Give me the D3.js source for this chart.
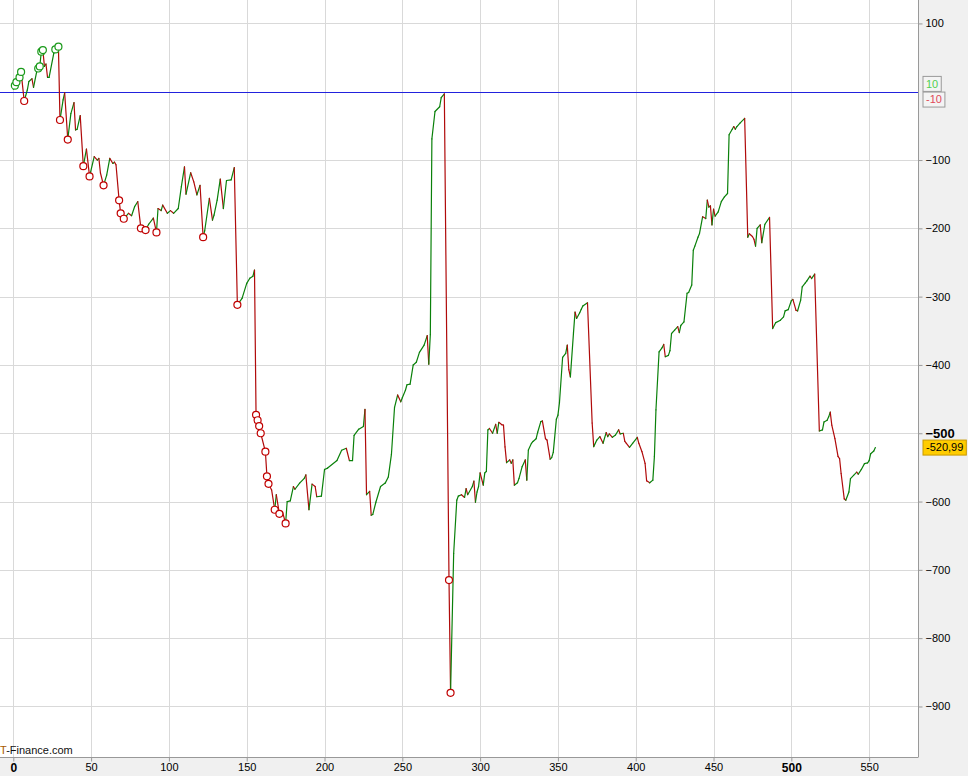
<!DOCTYPE html>
<html>
<head>
<meta charset="utf-8">
<script src="https://d3js.org/d3.v7.min.js"></script>
<style>
  body { margin: 0; background: #fff; }
  svg { display: block; font-family: "Liberation Sans", Arial, sans-serif; }
</style>
</head>
<body>
<div id="chart"></div>
<script>
// bar index and indicator value
var bars = [0,1,2,4,5,7,9,10,12,13,15,16,17,18,19,20,21,22,23,26,27,29,30,32,33,35,37,39,40,41,43,45,47,49,
  52,54,55,56,58,60,62,64,65,66,68,69,71,74,76,78,80,82,85,87,90,92,93,95,96,99,101,103,106,108,110,111,114,
  116,118,120,122,123,126,128,129,131,133,135,137,140,142,144,147,150,152,154,155,156,157,158,159,162,163,164,
  166,168,169,171,173,175,176,178,180,181,184,187,188,190,192,194,195,198,200,202,208,211,214,216,218,219,222,
  225,226,227,229,230,231,233,236,239,241,243,245,247,249,250,252,253,255,257,259,261,264,266,267,268,269,271,
  274,275,277,280,281,283,285,286,288,290,291,292,295,296,297,298,299,300,302,303,304,305,306,308,310,311,312,
  314,315,316,317,319,320,321,322,324,325,327,329,330,331,333,334,336,337,339,340,342,343,345,346,347,349,350,
  351,353,355,356,357,358,360,361,362,364,365,366,369,372,373,375,377,379,381,382,383,385,387,389,390,392,393,
  394,396,398,401,402,404,406,407,409,411,412,413,415,417,418,419,421,422,423,425,427,428,429,431,433,434,436,
  437,438,440,441,443,445,446,447,448,449,450,451,453,455,457,459,460,462,463,464,465,467,470,472,473,475,476,
  477,478,480,481,483,486,488,490,493,495,496,498,500,501,503,504,506,507,509,510,512,513,515,518,520,521,523,
  524,525,526,528,530,531,532,534,535,537,538,540,542,543,545,547,549,550,551,553,554];

var values = [3.5,8.8,14,21,29,-13.6,2.5,15,19,6.4,29,34,37,58.6,61,37,40.6,21,21,56,62,66,-41.4,-12,-1.5,-70,
  -32,-16,-56,-55,-35,-109,-84,-124,-95,-100,-97.5,-119,-137,-122,-97.5,-105,-103,-107,-159,-178,-186,-178,-181.5,
  -168,-161,-200,-202.5,-194,-185,-206,-171,-174,-166,-178,-174,-178,-171,-139,-110,-150,-118.6,-132,-151,-137,
  -213,-203.5,-156,-188,-180.5,-158.6,-128,-171,-130,-129,-111,-312,-302.5,-280.5,-273,-270,-261,-473,-481,
  -489.5,-500,-527,-563,-574,-583,-612,-590,-618,-615,-632,-600,-599,-578,-582,-573,-566,-561,-612,-574.5,-578,
  -593,-592,-553,-551,-540,-525,-522,-540,-540,-503,-494,-490,-465,-590,-585,-620,-619,-601,-578,-573,-564,-531,
  -462,-444,-454,-448,-437,-429,-428,-400,-396,-381.5,-371,-357,-399,-355.5,-69,-29,-22,-8.7,-3,-715,-880,-676,
  -598,-592,-590,-594,-581,-590,-578,-570,-601,-586,-578,-558,-576,-558,-556,-495,-493,-500,-487,-500,-484,
  -487.6,-488,-520,-543,-539,-544,-539,-576,-572.5,-566,-549,-539,-568.6,-524.5,-514.7,-512,-508,-498.5,-483,
  -482,-508,-510,-538,-535.6,-528,-479.4,-473.5,-455,-389,-383,-371,-407,-417.6,-353,-322.5,-332,-323.5,-318.6,
  -313.7,-309,-485,-519.6,-510,-505,-514.7,-499,-505,-501,-506,-502.5,-495,-501,-500,-512,-514.7,-520.6,-514.7,
  -506,-514.7,-527,-544,-569.6,-572.5,-568.6,-534,-465.7,-381,-374.6,-370,-388,-386,-379,-354,-349,-344,-352.6,
  -342,-337,-295,-294,-283,-232,-226,-213,-207.5,-183,-185.7,-158.6,-169,-167,-195,-172,-182,-176,-161,-154,
  -149,-63,-55,-51,-55,-51,-46,-39,-213,-208,-212,-216,-226,-200,-195,-221,-194,-184,-346.7,-338,-334.5,-329.6,
  -320.8,-319,-306,-304,-320,-321,-305,-285.6,-280,-277,-270,-273.5,-267,-496.7,-495,-483.5,-481,-476,-469,-488,
  -508,-534,-537,-559,-596,-598,-586,-566.5,-561.6,-557,-560,-553,-544.5,-543.5,-540,-530,-526,-520.99];

// bars carrying a signal circle
var signalBars = [1,2,4,5,7,16,17,18,19,27,29,30,35,45,49,58,68,69,71,82,85,92,122,144,156,157,158,159,162,
  163,164,168,171,175,280,281];

var xTicks = [0,50,100,150,200,250,300,350,400,450,500,550];
var yTicks = [100,-100,-200,-300,-400,-500,-600,-700,-800,-900];
var yGrid = [100,0,-100,-200,-300,-400,-500,-600,-700,-800,-900];
var levelUp = 10, levelDown = -10, zeroLine = 0;
var lastLabel = "-520,99";

var W = 968, H = 776;
var plotW = 918, plotH = 757;

var data = bars.map(function(b, i) { return { bar: b, v: values[i] }; });

var x = d3.scaleLinear().domain([-8.55, 581.4]).range([0, plotW]);
var y = d3.scaleLinear().domain([134.3, -974]).range([0, plotH]);

var svg = d3.select("#chart").append("svg").attr("width", W).attr("height", H);

svg.append("rect").attr("width", W).attr("height", H).attr("fill", "#f0f0f0");
svg.append("rect").attr("width", plotW).attr("height", plotH).attr("fill", "#fff");

// grid
svg.append("g").selectAll("line").data(xTicks).enter().append("line")
  .attr("x1", function(d) { return Math.round(x(d)) + 0.5; })
  .attr("x2", function(d) { return Math.round(x(d)) + 0.5; })
  .attr("y1", 0).attr("y2", plotH)
  .attr("stroke", "#d9d9d9").attr("stroke-width", 1);

svg.append("g").selectAll("line").data(yGrid).enter().append("line")
  .attr("x1", 0).attr("x2", plotW)
  .attr("y1", function(d) { return Math.round(y(d)) + 0.5; })
  .attr("y2", function(d) { return Math.round(y(d)) + 0.5; })
  .attr("stroke", "#d9d9d9").attr("stroke-width", 1);

// zero line
svg.append("line")
  .attr("x1", 0).attr("x2", plotW)
  .attr("y1", Math.round(y(zeroLine)) + 0.5).attr("y2", Math.round(y(zeroLine)) + 0.5)
  .attr("stroke", "#2222dd").attr("stroke-width", 1);

// line, coloured by direction
svg.append("g").selectAll("line").data(d3.pairs(data)).enter().append("line")
  .attr("x1", function(p) { return x(p[0].bar); })
  .attr("y1", function(p) { return y(p[0].v); })
  .attr("x2", function(p) { return x(p[1].bar); })
  .attr("y2", function(p) { return y(p[1].v); })
  .attr("stroke", function(p) { return p[1].v >= p[0].v ? "#0a800a" : "#b00a0a"; })
  .attr("stroke-width", 1.2)
  .attr("stroke-linecap", "round");

// signal circles
var lookup = {};
data.forEach(function(d) { lookup[d.bar] = d.v; });
svg.append("g").selectAll("circle").data(signalBars).enter().append("circle")
  .attr("cx", function(b) { return x(b); })
  .attr("cy", function(b) { return y(lookup[b]); })
  .attr("r", 3.5)
  .attr("fill", "#fff")
  .attr("stroke", function(b) { return lookup[b] > 0 ? "#1a9a1a" : "#c00000"; })
  .attr("stroke-width", 1.2);

// right axis
var yAxis = d3.axisRight(y).tickValues(yTicks).tickSize(4).tickFormat(d3.format("d"));
var ya = svg.append("g").attr("transform", "translate(" + (plotW + 0.5) + ",0)").call(yAxis);
ya.select(".domain").attr("stroke", "#999").attr("d", "M0,0V" + plotH);
ya.selectAll(".tick line").attr("stroke", "#999");
ya.selectAll(".tick text")
  .attr("x", 7).attr("fill", "#000")
  .style("font-size", function(d) { return d === -500 ? "13px" : "11px"; })
  .style("font-weight", function(d) { return d === -500 ? "bold" : "normal"; });

// bottom axis
var xAxis = d3.axisBottom(x).tickValues(xTicks).tickSize(4).tickFormat(d3.format("d"));
var xa = svg.append("g").attr("transform", "translate(0," + (plotH + 0.5) + ")").call(xAxis);
xa.select(".domain").attr("stroke", "#999").attr("d", "M0,0H" + (plotW + 0.5));
xa.selectAll(".tick line").attr("stroke", "#999");
xa.selectAll(".tick text")
  .attr("y", 6).attr("fill", "#000")
  .style("font-size", function(d) { return d % 500 === 0 ? "12px" : "11px"; })
  .style("font-weight", function(d) { return d % 500 === 0 ? "bold" : "normal"; });

// level tags on the right
function tag(v, dy, txt, col, bg, border) {
  var g = svg.append("g").attr("transform", "translate(" + (plotW + 5) + "," + (y(v) + dy) + ")");
  var t = g.append("text").attr("x", 3).attr("y", 0).attr("dy", "0.35em")
    .style("font-size", "11px").attr("fill", col).text(txt);
  var w = t.node().getComputedTextLength() + 6;
  g.insert("rect", "text").attr("x", 0).attr("y", -7.5).attr("width", w).attr("height", 15)
    .attr("fill", bg).attr("stroke", border);
}
tag(levelUp, -1, String(levelUp), "#50d050", "#f4f4f4", "#999");
tag(levelDown, 1, String(levelDown), "#e04a5a", "#f4f4f4", "#999");
tag(values[values.length - 1], 0, lastLabel, "#000", "#ffcc00", "#c89a00");

// watermark
var wm = svg.append("text").attr("x", 0).attr("y", 754).style("font-size", "11px").attr("fill", "#111");
wm.append("tspan").attr("fill", "#a85a00").text("T");
wm.append("tspan").text("-Finance.com");
</script>
</body>
</html>
